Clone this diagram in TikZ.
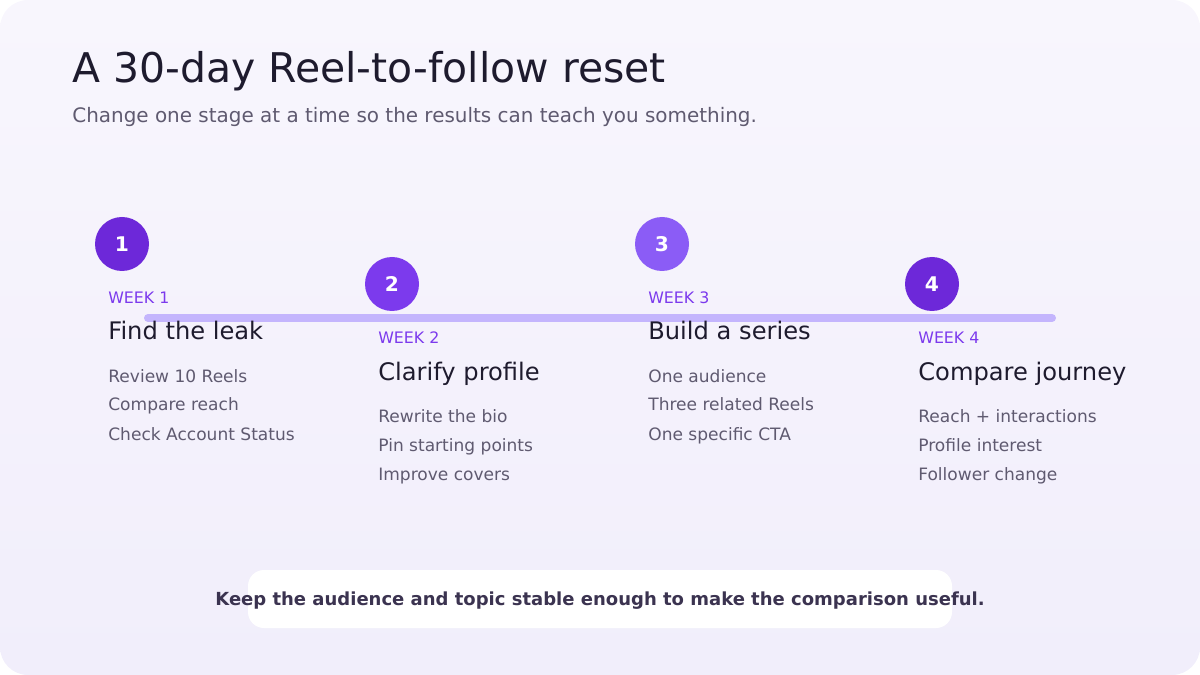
\documentclass[tikz,border=0pt]{standalone}
\usepackage{fontspec}
\setmainfont{DejaVu Sans}
\usetikzlibrary{positioning,calc}
\definecolor{bgtop}{HTML}{F8F6FD}
\definecolor{bgbot}{HTML}{F1EEFB}
\definecolor{ink}{HTML}{1E1B2E}
\definecolor{muted}{HTML}{5F5A70}
\definecolor{weekc}{HTML}{7C3AED}
\definecolor{track}{HTML}{C4B5FD}
\definecolor{footc}{HTML}{3B3350}
\tikzset{
  badge/.style={circle,minimum size=54*0.02cm,inner sep=0pt,text=white,font=\fontsize{11.5}{12}\selectfont\bfseries},
  week/.style={anchor=base west,inner sep=0pt,text=weekc,font=\fontsize{9}{10}\selectfont},
  head/.style={anchor=base west,inner sep=0pt,text=ink,font=\fontsize{13.75}{15}\selectfont},
  item/.style={anchor=base west,inner sep=0pt,text=muted,font=\fontsize{9.7}{11}\selectfont}
}
\begin{document}
\begin{tikzpicture}[x=0.02cm,y=-0.02cm]
    % Background
    \useasboundingbox (0,0) rectangle (1200,675);
    \shade[top color=bgtop,bottom color=bgbot,rounded corners=28*0.02cm] (0,0) rectangle (1200,675);

    % Title
    \node[anchor=base west,inner sep=0pt,text=ink,font=\fontsize{23.3}{26}\selectfont] (title) at (72,83) {A 30-day Reel-to-follow reset};
    \node[anchor=base west,inner sep=0pt,text=muted,font=\fontsize{11.35}{13}\selectfont] (subtitle) at (72,123) {Change one stage at a time so the results can teach you something.};

    % Track
    \coordinate (trackL) at (148,318);
    \coordinate (trackR) at (1052,318);
    \draw[track,line width=8*0.02cm,line cap=round] (trackL) -- (trackR);

    % Stages
    \foreach \i/\x/\dy/\col/\h/\a/\b/\c in {
        1/108/0/6D28D9/Find the leak/Review 10 Reels/Compare reach/Check Account Status,
        2/378/40/7C3AED/Clarify profile/Rewrite the bio/Pin starting points/Improve covers,
        3/648/0/8B5CF6/Build a series/One audience/Three related Reels/One specific CTA,
        4/918/40/6D28D9/Compare journey/Reach + interactions/Profile interest/Follower change}{
        \definecolor{bc}{HTML}{\col}
        \node[badge,fill=bc] (badge\i) at (\x+14,244+\dy) {\i};
        \node[week] (week\i) at (\x,304+\dy) {WEEK \i};
        \node[head] (head\i) at (\x,340+\dy) {\h};
        \node[item] (itemA\i) at (\x,382+\dy) {\a};
        \node[item] (itemB\i) at (\x,411+\dy) {\b};
        \node[item] (itemC\i) at (\x,440+\dy) {\c};
    }

    % Footer note
    \fill[white,rounded corners=16*0.02cm] (248,570) rectangle (952,628);
    \node[text=footc,font=\fontsize{10.25}{12}\selectfont\bfseries] (note) at (600,601) {Keep the audience and topic stable enough to make the comparison useful.};
\end{tikzpicture}
\end{document}
